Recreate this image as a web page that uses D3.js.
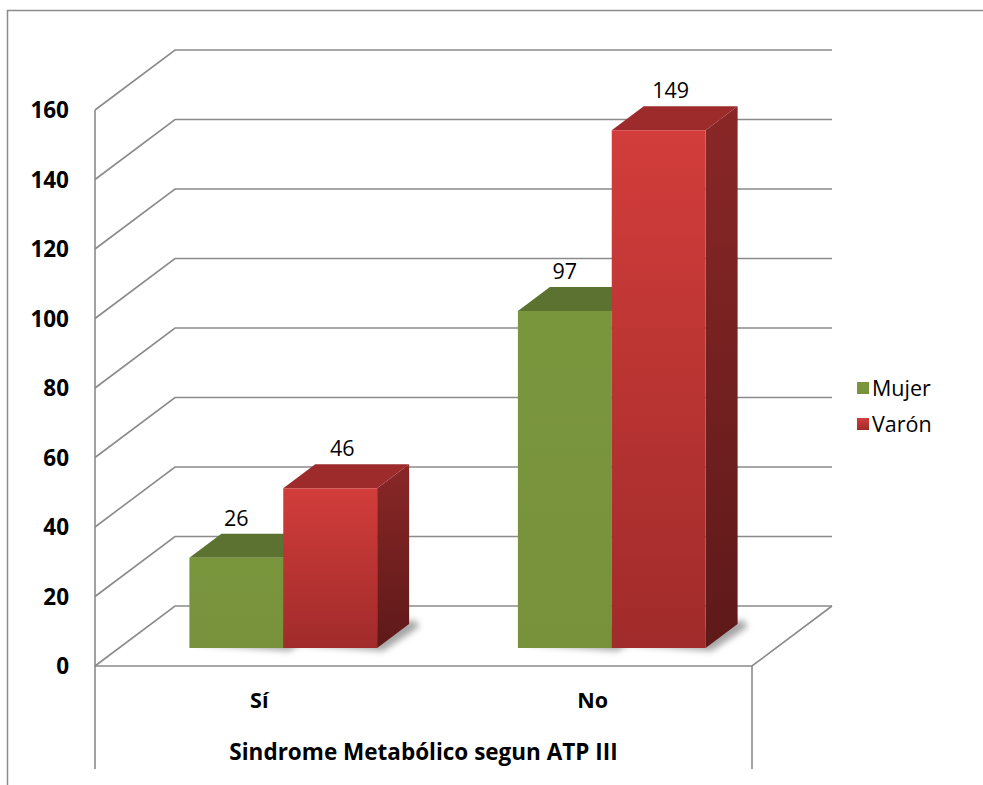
<!DOCTYPE html>
<html>
<head>
<meta charset="utf-8">
<script src="https://cdn.jsdelivr.net/npm/d3@7"></script>
<style>
  html, body { margin: 0; padding: 0; background: #ffffff; }
  svg { display: block; }
  text { font-family: "Open Sans", Lato, sans-serif; fill: #000; }
</style>
</head>
<body>
<svg id="chart" width="983" height="785"></svg>
<script>
// Data
const categories = ["Sí", "No"];
const seriesNames = ["Mujer", "Varón"];
const mujerValues = [26, 97];
const varonValues = [46, 149];
const yTicks = [0, 20, 40, 60, 80, 100, 120, 140, 160];
const axisTitle = "Sindrome Metabólico segun ATP III";

const seriesValues = [mujerValues, varonValues];

const svg = d3.select("#chart");
const defs = svg.append("defs");

// Plot geometry (front plane of the 3D box)
const plotLeft = 95, plotRight = 752, plotBottom = 666, plotTop = 110;
const depthX = 80, depthY = 60;          // receding offset of the back wall
const zFront = 0.3, zBack = 0.7;         // depth span occupied by the columns
const gridColor = "#8b8b8b";

const y = d3.scaleLinear().domain([0, 160]).range([plotBottom, plotTop]);
const x = d3.scaleBand().domain(categories).range([plotLeft, plotRight]);
const xSub = d3.scaleBand().domain(seriesNames).range([0, x.bandwidth()])
  .paddingInner(0).paddingOuter(0.75);

// projection of (screen x at front, value, depth fraction)
const proj = (px, v, z) => [px + z * depthX, y(v) - z * depthY];

// Outer chart border
svg.append("path")
  .attr("d", `M7.5,785 V10.5 H983`)
  .attr("fill", "none").attr("stroke", gridColor).attr("stroke-width", 1.5);

// Gridlines: side wall diagonal + back wall horizontal
const grid = svg.append("g").attr("fill", "none")
  .attr("stroke", gridColor).attr("stroke-width", 1.6);
yTicks.forEach(v => {
  const a = proj(plotLeft, v, 0), b = proj(plotLeft, v, 1), c = proj(plotRight, v, 1);
  grid.append("path").attr("d", `M${a}L${b}L${c}`);
});
// Floor right edge and front edge
grid.append("path").attr("d", `M${proj(plotLeft, 0, 0)}L${proj(plotRight, 0, 0)}L${proj(plotRight, 0, 1)}`);
// Vertical axis line and category divider lines
grid.append("path").attr("d", `M${plotLeft},${y(160)}V769`);
grid.append("path").attr("d", `M${plotRight},${plotBottom}V769`);

// Gradients
function vGrad(id, c1, c2) {
  const g = defs.append("linearGradient").attr("id", id)
    .attr("x1", 0).attr("y1", 0).attr("x2", 0).attr("y2", 1);
  g.append("stop").attr("offset", "0%").attr("stop-color", c1);
  g.append("stop").attr("offset", "100%").attr("stop-color", c2);
}
const palette = {
  "Mujer": { front: ["#7a963d", "#77923b"], top: "#5b7230", side: ["#5f7a30", "#44581f"], id: "m" },
  "Varón": { front: ["#d23d3b", "#a02b2a"], top: "#9d2b2b", side: ["#8a2727", "#5e1919"], id: "v" }
};
Object.values(palette).forEach(p => {
  vGrad("front-" + p.id, p.front[0], p.front[1]);
  vGrad("side-" + p.id, p.side[0], p.side[1]);
});
const blur = defs.append("filter").attr("id", "shadow")
  .attr("x", "-50%").attr("y", "-50%").attr("width", "200%").attr("height", "200%");
blur.append("feGaussianBlur").attr("stdDeviation", 3);

// Column data
const bars = [];
categories.forEach((cat, ci) => {
  seriesNames.forEach((s, si) => {
    const x0 = x(cat) + xSub(s);
    bars.push({ cat, s, v: seriesValues[si][ci], x0, x1: x0 + xSub.bandwidth() });
  });
});

const pts = a => a.map(p => p.join(",")).join(" ");

// Floor shadows
const shadowG = svg.append("g").attr("filter", "url(#shadow)");
bars.forEach(b => {
  const fl = proj(b.x0, 0, zFront), fr = proj(b.x1, 0, zFront);
  const br = proj(b.x1, 0, zBack);
  shadowG.append("polygon")
    .attr("points", pts([[fl[0] + 6, fl[1] - 4], [fr[0] + 6, fr[1] + 3], [br[0] + 10, br[1] + 3], [br[0] + 6, br[1] - 4]]))
    .attr("fill", "#000").attr("opacity", 0.35);
});

// Columns: side, top, front, drawn left to right
const barG = svg.append("g");
bars.forEach(b => {
  const p = palette[b.s];
  const ftl = proj(b.x0, b.v, zFront), ftr = proj(b.x1, b.v, zFront);
  const fbl = proj(b.x0, 0, zFront), fbr = proj(b.x1, 0, zFront);
  const btl = proj(b.x0, b.v, zBack), btr = proj(b.x1, b.v, zBack);
  const bbr = proj(b.x1, 0, zBack);
  barG.append("polygon").attr("points", pts([ftr, btr, bbr, fbr]))
    .attr("fill", `url(#side-${p.id})`);
  barG.append("polygon").attr("points", pts([ftl, btl, btr, ftr]))
    .attr("fill", p.top);
  barG.append("polygon").attr("points", pts([ftl, ftr, fbr, fbl]))
    .attr("fill", `url(#front-${p.id})`);
});

// Value labels
const labelShift = { "Mujer": 0, "Varón": 12 };
svg.append("g").selectAll("text").data(bars).join("text")
  .attr("x", b => (b.x0 + b.x1) / 2 + zFront * depthX + labelShift[b.s])
  .attr("y", b => proj(b.x0, b.v, zBack)[1] - 8)
  .attr("text-anchor", "middle")
  .attr("font-size", 21.5)
  .text(b => b.v);

// Y axis tick labels
svg.append("g").selectAll("text").data(yTicks).join("text")
  .attr("x", 69).attr("y", v => y(v)).attr("dy", "0.36em")
  .attr("text-anchor", "end")
  .attr("font-size", 22.5).attr("font-weight", "bold")
  .text(v => v);

// Category labels and axis title
svg.append("g").selectAll("text").data(categories).join("text")
  .attr("x", (c, i) => x(c) + x.bandwidth() / 2 + i * 5)
  .attr("y", 708)
  .attr("text-anchor", "middle")
  .attr("font-size", 21.5).attr("font-weight", "bold")
  .text(c => c);
svg.append("text")
  .attr("x", (plotLeft + plotRight) / 2).attr("y", 760)
  .attr("text-anchor", "middle")
  .attr("font-size", 22.5).attr("font-weight", "bold")
  .text(axisTitle);

// Legend
const legend = svg.append("g").attr("transform", "translate(857,388)");
seriesNames.forEach((s, i) => {
  const g = legend.append("g").attr("transform", `translate(0,${i * 36})`);
  g.append("rect").attr("x", 0).attr("y", -6).attr("width", 12).attr("height", 12)
    .attr("fill", `url(#front-${palette[s].id})`);
  g.append("text").attr("x", 15).attr("y", 0).attr("dy", "0.36em")
    .attr("font-size", 21.5).text(s);
});
</script>
</body>
</html>
